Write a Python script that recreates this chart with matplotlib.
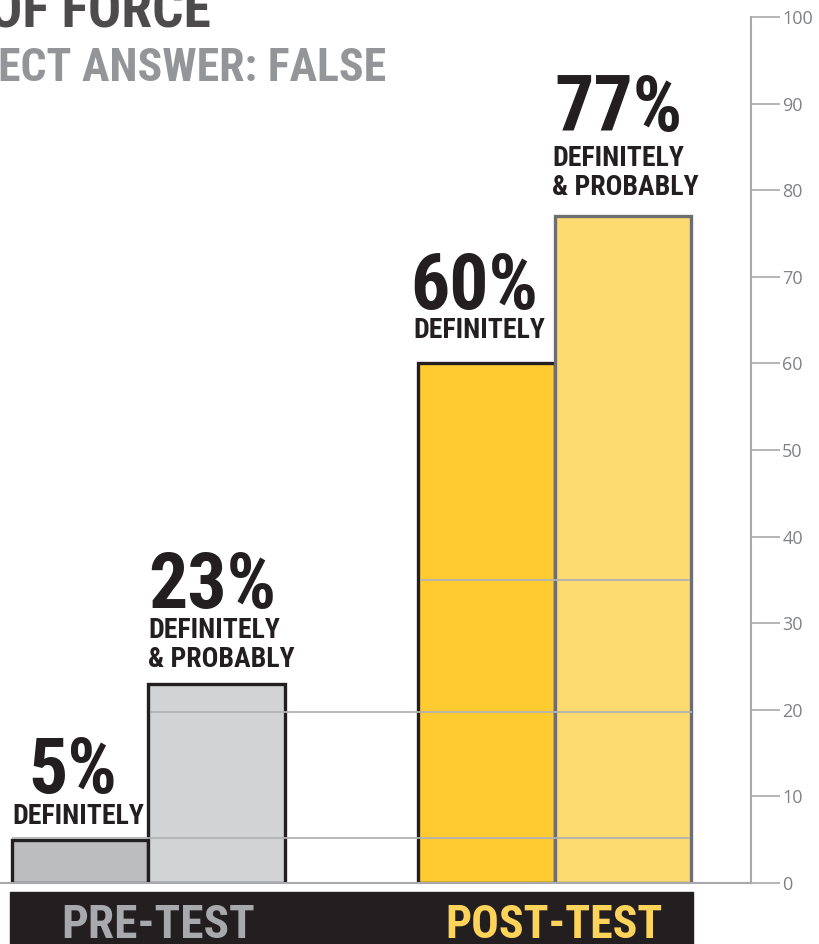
import matplotlib
matplotlib.use("Agg")
import matplotlib.pyplot as plt
from matplotlib.patches import Rectangle

COND = ['Roboto Condensed', 'Liberation Sans Narrow', 'DejaVu Sans']
plt.rcParams['font.family'] = COND

# Data
groups = ["PRE-TEST", "POST-TEST"]
definitely = [5, 60]
def_and_prob = [23, 77]
yticks = [0, 10, 20, 30, 40, 50, 60, 70, 80, 90, 100]
title_line1 = "OF FORCE"
title_line2 = "ECT ANSWER: FALSE"
ref_lines = [5.2, 19.7, 35.0]

W, H = 820, 944
PX = 72 / 100  # points per pixel
fig = plt.figure(figsize=(W / 100, H / 100), dpi=100)
ax = fig.add_axes([0, (H - 883) / H, 751 / W, (883 - 17) / H])
U = 136.5
ax.set_xlim(0, 751 / U)
ax.set_ylim(0, 100)

centers = [1.086, 4.064]
bw = 1.0
def_fc = ["#bcbdbf", "#ffcb31"]
both_fc = ["#d1d3d4", "#fddb70"]
def_ec = ["#231f20", "#231f20"]
both_ec = ["#231f20", "#6d6e71"]

for i, c in enumerate(centers):
    ax.bar(c - bw / 2, definitely[i], width=bw, align='center', color=def_fc[i],
           edgecolor=def_ec[i], linewidth=2.4, zorder=2)
    ax.bar(c + bw / 2, def_and_prob[i], width=bw, align='center', color=both_fc[i],
           edgecolor=both_ec[i], linewidth=2.4, zorder=2)

# thin gray reference lines
ax.hlines(ref_lines[0], 12 / U, 690 / U, color="#b1b2b4", lw=1.3, zorder=3)
ax.hlines(ref_lines[1], 150 / U, 692 / U, color="#b1b2b4", lw=1.3, zorder=3)
ax.hlines(ref_lines[2], 420 / U, 690 / U, color="#b1b2b4", lw=1.3, zorder=3)

# labels
big = 56
small = 20
txtc = "#231f20"
def label(x, y, pct, lines, offs_px, pct_dx=0):
    # offs_px: baseline offsets (pixels above bar top) for each line bottom-up, then pct
    for k, ln in enumerate(reversed(lines)):
        ax.annotate(ln, xy=(x, y), xytext=(0, offs_px[k] * PX), textcoords='offset points',
                    ha='left', va='baseline', fontsize=small, fontweight='bold', color=txtc)
    ax.annotate(pct, xy=(x, y), xytext=(pct_dx * PX, offs_px[-1] * PX), textcoords='offset points',
                ha='left', va='baseline', fontsize=big, fontweight='bold', color=txtc)

label(12 / U, definitely[0], f"{definitely[0]}%", ["DEFINITELY"], [16, 47], pct_dx=16)
label(148 / U, def_and_prob[0], f"{def_and_prob[0]}%", ["DEFINITELY", "& PROBABLY"], [17, 46, 76])
label(413 / U, definitely[1], f"{definitely[1]}%", ["DEFINITELY"], [25, 54], pct_dx=-3)
label(552 / U, def_and_prob[1], f"{def_and_prob[1]}%", ["DEFINITELY", "& PROBABLY"], [21, 50, 85], pct_dx=2)

# axis styling
for s in ["top", "left"]:
    ax.spines[s].set_visible(False)
ax.spines["right"].set_color("#a7a9ac")
ax.spines["right"].set_linewidth(1.5)
ax.spines["bottom"].set_color("#a7a9ac")
ax.spines["bottom"].set_linewidth(1.5)
ax.set_xticks([])
ax.yaxis.tick_right()
ax.set_yticks(yticks)
ax.set_yticklabels([str(t) for t in yticks])
ax.tick_params(axis='y', direction='out', length=21, width=1.2, color="#a7a9ac",
               labelcolor="#808285", labelsize=13, pad=1.5)
for lab in ax.get_yticklabels():
    lab.set_fontfamily(['Open Sans', 'DejaVu Sans'])
ax.patch.set_visible(False)

# bottom band
fig.patches.append(Rectangle((10 / W, 0), (693 - 10) / W, (944 - 892) / H,
                             transform=fig.transFigure, color="#231f20", zorder=0))
fig.text(158 / W, (944 - 938) / H, groups[0], ha='center', va='baseline',
         fontsize=34, fontweight='bold', color="#a7a9ac")
fig.text(554 / W, (944 - 938) / H, groups[1], ha='center', va='baseline',
         fontsize=33, fontweight='bold', color="#fdd35a")

# title
fig.text(-0.013, (944 - 28) / H, title_line1, ha='left', va='baseline',
         fontsize=40, fontweight='bold', color="#4d4b4c")
fig.text(-0.003, (944 - 81) / H, title_line2, ha='left', va='baseline',
         fontsize=33, fontweight='bold', color="#939598")

fig.savefig("out.png", dpi=100)
